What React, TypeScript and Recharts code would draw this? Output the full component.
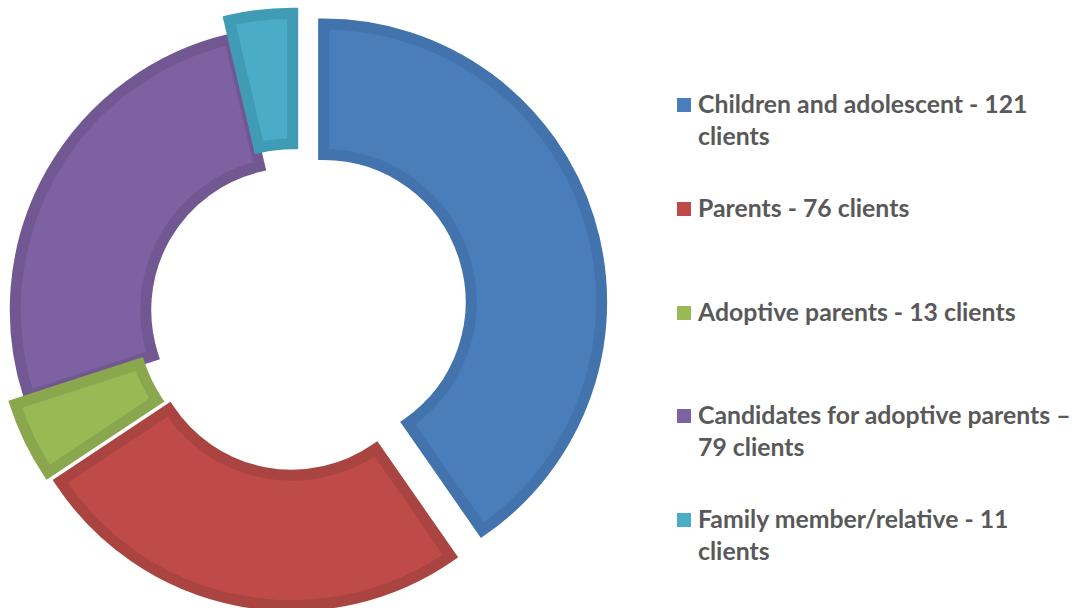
import React from "react";
import { PieChart, Pie, Cell } from "recharts";

const categories = [
  "Children and adolescent",
  "Parents",
  "Adoptive parents",
  "Candidates for adoptive parents",
  "Family member/relative",
];
const clients = [121, 76, 13, 79, 11];
const legendLines = [
  ["Children and adolescent - 121", "clients"],
  ["Parents - 76 clients"],
  ["Adoptive parents - 13 clients"],
  ["Candidates for adoptive parents \u2013", "79 clients"],
  ["Family member/relative - 11", "clients"],
];

const fills = ["#4a7ebb", "#be4b48", "#98b954", "#7e61a0", "#4aacc6"];
const strokes = ["#4273ad", "#aa4440", "#8aa74e", "#715893", "#3f9cb4"];
// how far each slice is pulled out from the centre, px
const explode = [30, 17, 17, 2, 20];
const drawOrder = [3, 0, 1, 2, 4];

const CX = 295;
const CY = 311;

const data = categories.map((name, i) => ({ name, value: clients[i] }));
const total = clients.reduce((a, b) => a + b, 0);
const mids = clients.map((v, i) => {
  const before = clients.slice(0, i).reduce((a, b) => a + b, 0);
  return ((before + v / 2) / total) * 2 * Math.PI;
});

export default function App() {
  return (
    <div
      style={{
        position: "absolute",
        left: 0,
        top: 0,
        width: 1081,
        height: 608,
        background: "#fff",
        fontFamily: "Lato, sans-serif",
      }}
    >
      <PieChart width={1081} height={608} margin={{ top: 0, right: 0, bottom: 0, left: 0 }}>
        {drawOrder.map((k) => (
          <Pie
            key={k}
            data={data}
            dataKey="value"
            cx={CX + explode[k] * Math.sin(mids[k])}
            cy={CY - explode[k] * Math.cos(mids[k])}
            innerRadius={147.5}
            outerRadius={278}
            startAngle={90}
            endAngle={-270}
            label={false}
            labelLine={false}
            isAnimationActive={false}
          >
            {data.map((d, i) => (
              <Cell
                key={d.name}
                fill={i === k ? fills[i] : "none"}
                stroke={i === k ? strokes[i] : "none"}
                strokeWidth={11}
              />
            ))}
          </Pie>
        ))}
      </PieChart>
      {legendLines.map((lines, i) => (
        <div
          key={categories[i]}
          style={{
            position: "absolute",
            left: 677,
            top: 88 + i * 103.75,
            display: "flex",
            alignItems: "flex-start",
          }}
        >
          <div
            style={{
              width: 14,
              height: 14,
              marginTop: 10,
              marginRight: 7,
              background: fills[i],
            }}
          />
          <div
            style={{
              color: "#595959",
              fontWeight: 700,
              fontSize: 24.8,
              lineHeight: "32px",
              whiteSpace: "nowrap",
            }}
          >
            {lines.map((l) => (
              <div key={l}>{l}</div>
            ))}
          </div>
        </div>
      ))}
    </div>
  );
}
